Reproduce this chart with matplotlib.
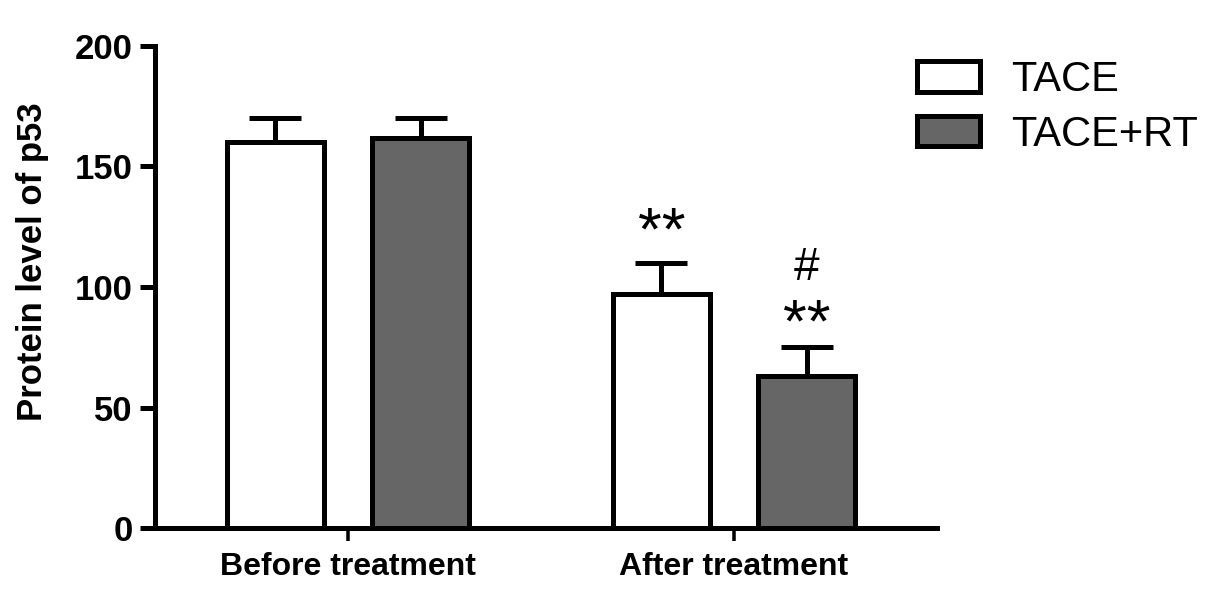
import matplotlib
matplotlib.use('Agg')
import matplotlib.pyplot as plt
import numpy as np

# data
groups = ['Before treatment', 'After treatment']
tace = [160, 97]
tace_err = [10, 13]
tace_rt = [162, 63]
tace_rt_err = [8, 12]

plt.rcParams['font.family'] = ['Liberation Sans', 'DejaVu Sans']

fig = plt.figure(figsize=(12.05, 5.95), dpi=100)
ax = fig.add_axes([0.1286, 0.1126, 0.649, 0.8101])

x = np.arange(len(groups))
w = 0.25
off = 0.188
lw = 3.6

ax.bar(x - off, tace, w, color='white', edgecolor='black', linewidth=lw, label='TACE', zorder=2)
ax.bar(x + off, tace_rt, w, color='#666666', edgecolor='black', linewidth=lw, label='TACE+RT', zorder=2)
ax.errorbar(x - off, tace, yerr=[np.zeros(2), tace_err], fmt='none', ecolor='black',
            elinewidth=lw, capsize=19, capthick=lw, zorder=1)
ax.errorbar(x + off, tace_rt, yerr=[np.zeros(2), tace_rt_err], fmt='none', ecolor='black',
            elinewidth=lw, capsize=19, capthick=lw, zorder=1)

# significance marks
ax.text(x[1] - off, 122, '**', ha='center', va='center', fontsize=44)
ax.text(x[1] + off, 108, '#', ha='center', va='center', fontsize=33)
ax.text(x[1] + off, 84, '**', ha='center', va='center', fontsize=44)

ax.set_xlim(-0.5, 1.526)
ax.set_ylim(0, 200)
ax.set_yticks([0, 50, 100, 150, 200])
ax.set_xticks(x)
ax.set_xticklabels(groups, fontsize=23, fontweight='bold')
ax.tick_params(axis='y', labelsize=25, width=lw, length=11, pad=5)
ax.tick_params(axis='x', width=lw * 0.7, length=9, pad=8)
for lab in ax.get_yticklabels():
    lab.set_fontweight('bold')
ax.set_ylabel('Protein level of p53', fontsize=25, fontweight='bold')
ax.yaxis.set_label_coords(-0.135, 0.552)

for s in ['top', 'right']:
    ax.spines[s].set_visible(False)
for s in ['left', 'bottom']:
    ax.spines[s].set_linewidth(lw)

leg = fig.legend(loc='upper left', bbox_to_anchor=(0.73, 0.962), frameon=False,
                 fontsize=30, handlelength=1.5, handleheight=0.75, handletextpad=0.75,
                 labelspacing=0.35)

fig.savefig('out.png', dpi=100)
